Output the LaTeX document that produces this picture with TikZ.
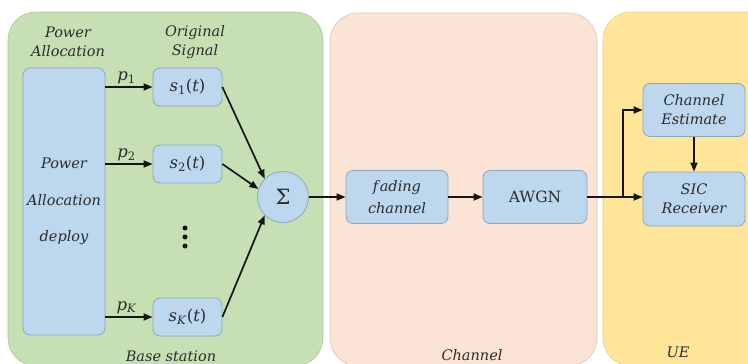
\documentclass[tikz,border=0pt]{standalone}
\usepackage{fontspec}
\setmainfont{DejaVu Serif}
\usetikzlibrary{arrows.meta}

\definecolor{bsfill}{HTML}{C6E0B4}
\definecolor{bsedge}{HTML}{A8C996}
\definecolor{chfill}{HTML}{FBE4D6}
\definecolor{chedge}{HTML}{D8C6B8}
\definecolor{uefill}{HTML}{FFE597}
\definecolor{ueedge}{HTML}{E8D07A}
\definecolor{boxfill}{HTML}{BDD7EE}
\definecolor{boxline}{HTML}{8BA5BD}
\definecolor{txt}{HTML}{2C2C2C}
\definecolor{lnk}{HTML}{151515}

% signal and power labels: italic letter, upright index and brackets
\newcommand{\sigl}[1]{\textit{s}\textsubscript{#1}(\textit{t})}
\newcommand{\pwr}[1]{\textit{p}\textsubscript{#1}}

\begin{document}
\begin{tikzpicture}[x=1pt,y=-1pt,
  panel/.style={rounded corners=28pt, line width=0.6pt},
  blk/.style={draw=boxline, fill=boxfill, rounded corners=7pt, line width=0.8pt,
    inner sep=0pt, align=center, text=txt},
  lbl/.style={text=txt, font=\fontsize{14.5}{19}\selectfont\itshape, align=center},
  mlbl/.style={text=txt, font=\fontsize{16.5}{18}\selectfont},
  arr/.style={draw=lnk, line width=1.7pt, -{Triangle[length=9pt,width=7pt]}},
  wire/.style={draw=lnk, line width=1.7pt}]

\useasboundingbox (0,0) rectangle (748,364);
\clip (0,0) rectangle (748,364);
\fill[white] (0,0) rectangle (748,364);

% background panels
\draw[panel, fill=bsfill, draw=bsedge] (8,12) rectangle (323,366);
\draw[panel, fill=chfill, draw=chedge] (330,13) rectangle (597,366);
\draw[panel, fill=uefill, draw=ueedge] (603,12) rectangle (780,366);

% panel headings and captions
\node[lbl] (hpa) at (68,42) {Power\\Allocation};
\node[lbl] (hos) at (195,42) {Original\\Signal};
\node[lbl] (cbs) at (171,356) {Base station};
\node[lbl] (cch) at (472,355) {Channel};
\node[lbl] (cue) at (678,352) {UE};

% base station blocks
\node[blk, minimum width=82pt, minimum height=267pt,
  font=\fontsize{14.5}{36.5}\selectfont\itshape] (pa) at (64,201.5)
  {Power\\Allocation\\deploy};
\node[blk, mlbl, minimum width=69pt, minimum height=38pt] (s1) at (187.5,87) {\sigl{1}};
\node[blk, mlbl, minimum width=69pt, minimum height=38pt] (s2) at (187.5,164) {\sigl{2}};
\node[blk, mlbl, minimum width=69pt, minimum height=38pt] (sK) at (187.5,317) {\sigl{\textit{K}}};
\node[blk, circle, rounded corners=0pt, minimum size=51pt, font=\fontsize{21}{21}\selectfont] (sig) at (283,197) {Σ};

% vertical ellipsis between the signal blocks
\node (dots) at (185,237) {};
\fill[lnk] (dots) ++(0,-9) circle (2.5pt) (dots) circle (2.5pt) (dots) ++(0,9) circle (2.5pt);

% power allocation arrows
\draw[arr] (pa.east |- s1) -- node[mlbl, above, pos=0.45, yshift=-1pt] {\pwr{1}} (s1.west);
\draw[arr] (pa.east |- s2) -- node[mlbl, above, pos=0.45, yshift=-1pt] {\pwr{2}} (s2.west);
\draw[arr] (pa.east |- sK) -- node[mlbl, above, pos=0.45, yshift=-1pt] {\pwr{\textit{K}}} (sK.west);

% superposition
\draw[arr] (s1.east) -- (sig.135);
\draw[arr] (s2.east) -- (sig.162);
\draw[arr] (sK.east) -- (sig.225);

% channel blocks
\node[blk, minimum width=102pt, minimum height=53pt, font=\fontsize{14.5}{22}\selectfont\itshape] (fade) at (397,197) {f\kern1.5pt ading\\channel};
\node[blk, minimum width=104pt, minimum height=53pt, font=\fontsize{15.5}{17}\selectfont] (awgn) at (535,197) {AWGN};

% UE blocks
\node[blk, minimum width=102pt, minimum height=53pt, font=\fontsize{14.5}{19}\selectfont\itshape] (ce) at (694,110) {Channel\\Estimate};
\node[blk, minimum width=102pt, minimum height=54pt, font=\fontsize{14.5}{19}\selectfont\itshape] (sic) at (694,199) {SIC\\Receiver};

\coordinate (j) at (623,197);

\draw[arr] (sig.east) -- (fade.west |- sig.east);
\draw[arr] (fade.east) -- (awgn.west);
\draw[wire] (awgn.east) -- (j);
\draw[arr] (j) -- (j -| sic.west);
\draw[arr] (j) |- (ce.west);
\draw[arr] (ce.south) -- (sic.north);

\end{tikzpicture}
\end{document}
